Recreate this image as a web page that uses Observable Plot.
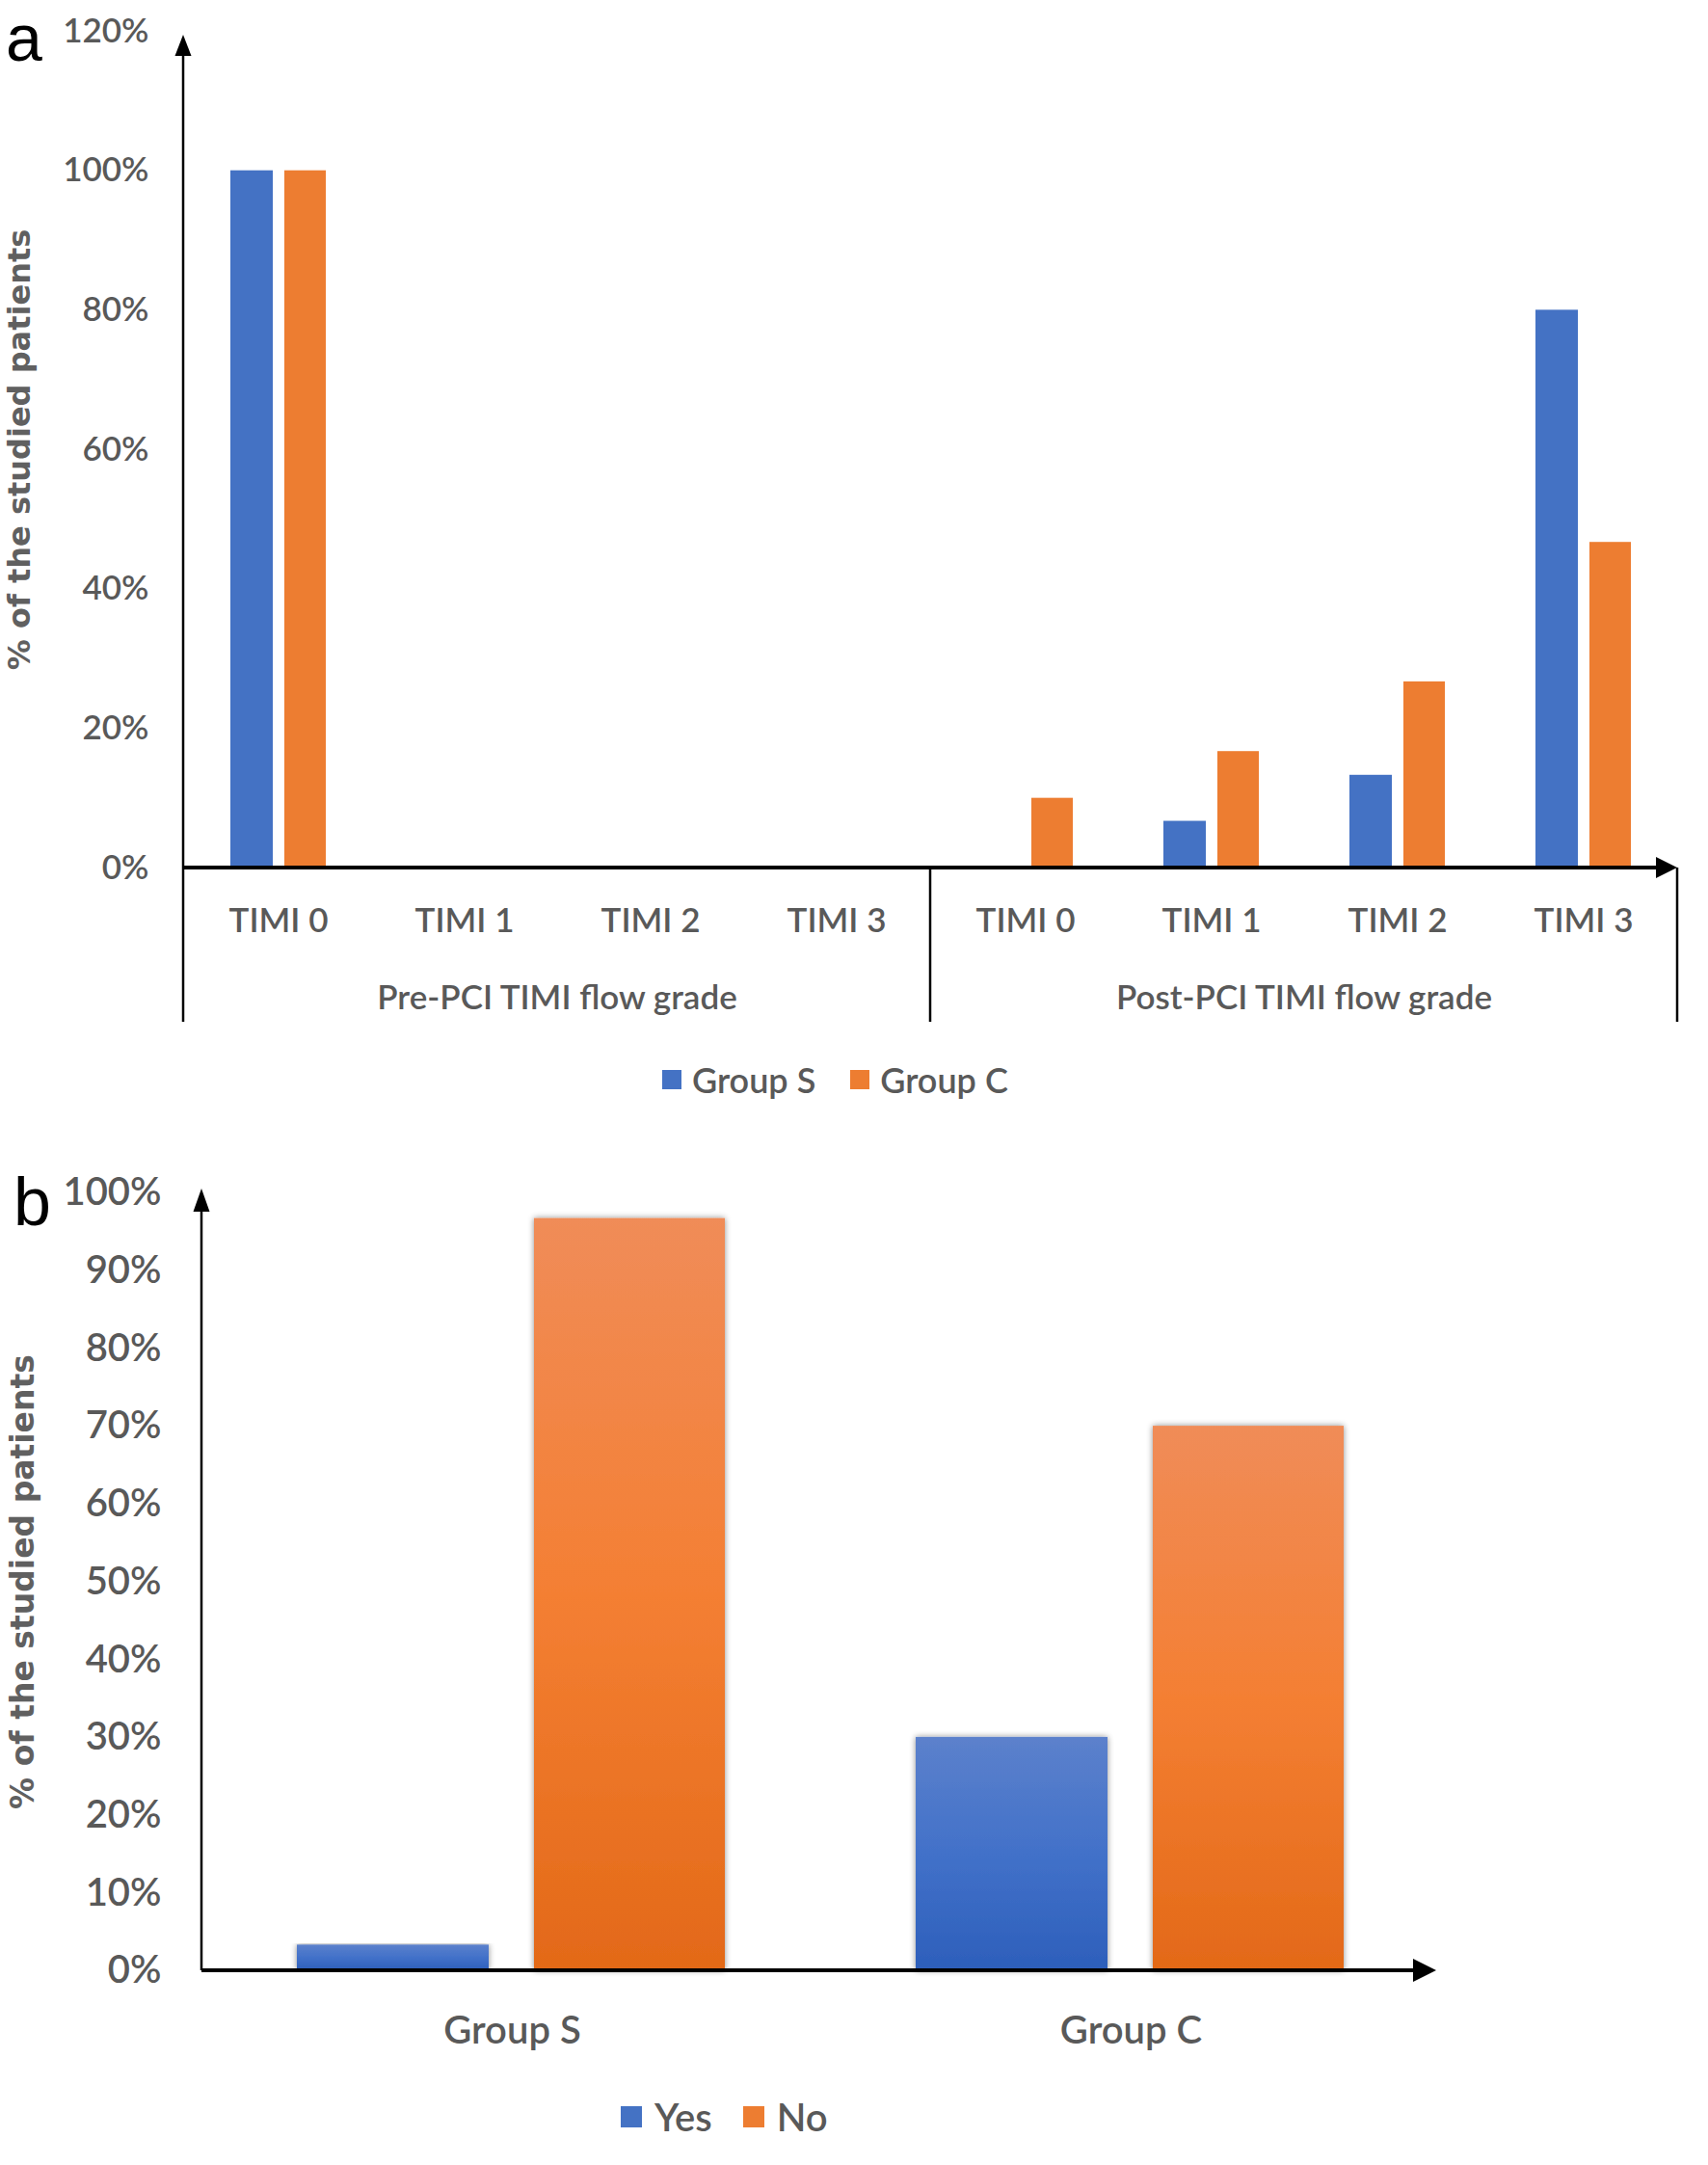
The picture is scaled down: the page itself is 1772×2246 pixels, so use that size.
<!DOCTYPE html>
<html>
<head>
<meta charset="utf-8">
<script src="https://cdn.jsdelivr.net/npm/d3@7"></script>
<script src="https://cdn.jsdelivr.net/npm/@observablehq/plot@0.6"></script>
<style>
  html, body { margin: 0; padding: 0; background: #ffffff; }
  #page { position: relative; width: 1772px; height: 2246px; background: #fff; overflow: hidden; }
  .panel { position: absolute; left: 0; }
  .plabel { position: absolute; font-family: "Liberation Sans", Arial, sans-serif; color: #000; line-height: normal; }
  .legend { position: absolute; display: flex; align-items: center; font-family: Lato, sans-serif; font-weight: 600; color: #595959; white-space: nowrap; }
  .legend .sw { display: inline-block; }
</style>
</head>
<body>
<svg width="0" height="0" style="position:absolute">
  <defs>
    <linearGradient id="gBlue" x1="0" y1="0" x2="0" y2="1">
      <stop offset="0" stop-color="#5c81cc"/>
      <stop offset="0.5" stop-color="#4271c9"/>
      <stop offset="1" stop-color="#2d5fbb"/>
    </linearGradient>
    <linearGradient id="gOrange" x1="0" y1="0" x2="0" y2="1">
      <stop offset="0" stop-color="#f08c58"/>
      <stop offset="0.5" stop-color="#f47f33"/>
      <stop offset="1" stop-color="#e36918"/>
    </linearGradient>
    <filter id="shadow" x="-20%" y="-5%" width="140%" height="110%">
      <feDropShadow dx="0" dy="0" stdDeviation="3" flood-color="#000" flood-opacity="0.45"/>
    </filter>
  </defs>
</svg>
<div id="page">
  <div class="plabel" style="left:6px; top:0px; font-size:68px;">a</div>
  <div class="plabel" style="left:14px; top:1207px; font-size:70px;">b</div>
  <div id="chartA" class="panel" style="top:0px;"></div>
  <div id="legendA" class="legend" style="left:687px; top:1098px; font-size:36px;"></div>
  <div id="chartB" class="panel" style="top:1160px;"></div>
  <div id="legendB" class="legend" style="left:644px; top:2172px; font-size:40px;"></div>
</div>
<script>
// ---------- data: panel a ----------
const timiGrades = ["TIMI 0", "TIMI 1", "TIMI 2", "TIMI 3"];
const phases = ["Pre-PCI TIMI flow grade", "Post-PCI TIMI flow grade"];
const seriesA = ["Group S", "Group C"];
const groupSPre = [100, 0, 0, 0];
const groupCPre = [100, 0, 0, 0];
const groupSPost = [0, 6.7, 13.3, 80];
const groupCPost = [10, 16.7, 26.7, 46.7];
const yTicksA = [0, 20, 40, 60, 80, 100, 120];
const yTitle = "% of the studied patients";

// ---------- data: panel b ----------
const groupsB = ["Group S", "Group C"];
const seriesB = ["Yes", "No"];
const yesValues = [3.3, 30];
const noValues = [96.7, 70];
const yTicksB = [0, 10, 20, 30, 40, 50, 60, 70, 80, 90, 100];

const colorsA = {"Group S": "#4472c4", "Group C": "#ed7d31"};
const colorsB = {"Yes": "url(#gBlue)", "No": "url(#gOrange)"};
const legendColorsB = {"Yes": "#4472c4", "No": "#ed7d31"};

// build tables
const rowsA = [];
[[phases[0], groupSPre, groupCPre], [phases[1], groupSPost, groupCPost]].forEach(([phase, s, c]) => {
  timiGrades.forEach((g, i) => {
    rowsA.push({phase, grade: g, group: "Group S", value: s[i]});
    rowsA.push({phase, grade: g, group: "Group C", value: c[i]});
  });
});
const rowsB = [];
groupsB.forEach((g, i) => {
  rowsB.push({group: g, answer: "Yes", value: yesValues[i]});
  rowsB.push({group: g, answer: "No", value: noValues[i]});
});

function arrowHeadUp(g, x, yTip, w, h) {
  g.append("polygon").attr("points", `${x},${yTip} ${x - w / 2},${yTip + h} ${x + w / 2},${yTip + h}`).attr("fill", "#000");
}
function arrowHeadRight(g, xTip, y, w, h) {
  g.append("polygon").attr("points", `${xTip},${y} ${xTip - w},${y - h / 2} ${xTip - w},${y + h / 2}`).attr("fill", "#000");
}
function styleYLabel(svg, size) {
  d3.select(svg).selectAll('g[aria-label="y-axis label"] text')
    .attr("font-family", "DejaVu Sans, sans-serif")
    .attr("font-weight", "bold")
    .attr("font-size", size)
    .attr("fill", "#606060");
}

// ---------- panel a ----------
const chartA = Plot.plot({
  width: 1772,
  height: 1090,
  marginLeft: 190,
  marginRight: 32,
  marginTop: 32,
  marginBottom: 190,
  style: {fontFamily: "Lato, sans-serif", fontSize: "35px", fontWeight: 600, color: "#595959", background: "transparent", overflow: "visible"},
  fx: {domain: phases, padding: 0, axis: "bottom", tickSize: 0, tickPadding: 122, label: null},
  x: {domain: timiGrades, padding: 0, tickSize: 0, tickPadding: 42, label: null},
  y: {domain: [0, 120], ticks: yTicksA, tickFormat: d => d + "%", tickSize: 0, tickPadding: 36,
      label: yTitle, labelAnchor: "center", labelOffset: 182, labelArrow: "none"},
  marks: [
    Plot.barY(rowsA.filter(d => d.group === seriesA[0]), {fx: "phase", x: "grade", y: "value", fill: colorsA[seriesA[0]], insetLeft: 47, insetRight: 102}),
    Plot.barY(rowsA.filter(d => d.group === seriesA[1]), {fx: "phase", x: "grade", y: "value", fill: colorsA[seriesA[1]], insetLeft: 103, insetRight: 47})
  ]
});
document.getElementById("chartA").appendChild(chartA);
styleYLabel(chartA, 32);
{
  const svg = d3.select(chartA);
  const ys = chartA.scale("y"), fxs = chartA.scale("fx");
  const y0 = ys.apply(0), yTop = ys.range[1];
  const left = fxs.apply(phases[0]);
  const right = fxs.apply(phases[1]) + fxs.bandwidth;
  const mid = fxs.apply(phases[1]);
  const g = svg.append("g").attr("aria-label", "axes-decor");
  [left, mid, right].forEach(x => {
    g.append("line").attr("x1", x).attr("x2", x).attr("y1", y0).attr("y2", y0 + 160)
      .attr("stroke", "#000").attr("stroke-width", 2.5);
  });
  g.append("line").attr("x1", left).attr("x2", left).attr("y1", y0).attr("y2", yTop + 20)
    .attr("stroke", "#000").attr("stroke-width", 2.5);
  arrowHeadUp(g, left, yTop + 4, 17, 22);
  g.append("line").attr("x1", left).attr("x2", right - 18).attr("y1", y0).attr("y2", y0)
    .attr("stroke", "#000").attr("stroke-width", 4);
  arrowHeadRight(g, right, y0, 22, 22);
}

// legend a
{
  const lg = d3.select("#legendA");
  seriesA.forEach((s, i) => {
    const item = lg.append("span").style("display", "inline-flex").style("align-items", "center")
      .style("margin-right", i === 0 ? "36px" : "0px");
    item.append("span").attr("class", "sw").style("width", "20px").style("height", "20px")
      .style("background", colorsA[s]).style("margin-right", "11px");
    item.append("span").text(s);
  });
}

// ---------- panel b ----------
const chartB = Plot.plot({
  width: 1772,
  height: 1000,
  marginLeft: 209,
  marginRight: 278,
  marginTop: 77,
  marginBottom: 116,
  style: {fontFamily: "Lato, sans-serif", fontSize: "40px", fontWeight: 600, color: "#595959", background: "transparent", overflow: "visible"},
  x: {domain: groupsB, padding: 0, tickSize: 0, tickPadding: 47, label: null},
  y: {domain: [0, 100], ticks: yTicksB, tickFormat: d => d + "%", tickSize: 0, tickPadding: 42,
      label: yTitle, labelAnchor: "center", labelOffset: 198, labelArrow: "none"},
  marks: [
    Plot.barY(rowsB.filter(d => d.answer === seriesB[0]), {x: "group", y: "value", fill: colorsB[seriesB[0]], insetLeft: 98, insetRight: 345}),
    Plot.barY(rowsB.filter(d => d.answer === seriesB[1]), {x: "group", y: "value", fill: colorsB[seriesB[1]], insetLeft: 344, insetRight: 100})
  ]
});
document.getElementById("chartB").appendChild(chartB);
styleYLabel(chartB, 33);
{
  const svg = d3.select(chartB);
  svg.selectAll('g[aria-label="bar"] rect').attr("filter", "url(#shadow)");
  const ys = chartB.scale("y"), xs = chartB.scale("x");
  const y0 = ys.apply(0), yTop = ys.range[1];
  const left = xs.range[0], right = xs.range[1];
  const g = svg.append("g").attr("aria-label", "axes-decor");
  g.append("line").attr("x1", left).attr("x2", left).attr("y1", y0).attr("y2", yTop + 10)
    .attr("stroke", "#000").attr("stroke-width", 2.5);
  arrowHeadUp(g, left, yTop - 4, 17, 24);
  g.append("line").attr("x1", left).attr("x2", right - 20).attr("y1", y0).attr("y2", y0)
    .attr("stroke", "#000").attr("stroke-width", 4);
  arrowHeadRight(g, right - 4, y0, 24, 24);
}

// legend b
{
  const lg = d3.select("#legendB");
  seriesB.forEach((s, i) => {
    const item = lg.append("span").style("display", "inline-flex").style("align-items", "center")
      .style("margin-right", i === 0 ? "32px" : "0px");
    item.append("span").attr("class", "sw").style("width", "22px").style("height", "22px")
      .style("background", legendColorsB[s]).style("margin-right", "13px");
    item.append("span").text(s);
  });
}
</script>
</body>
</html>
